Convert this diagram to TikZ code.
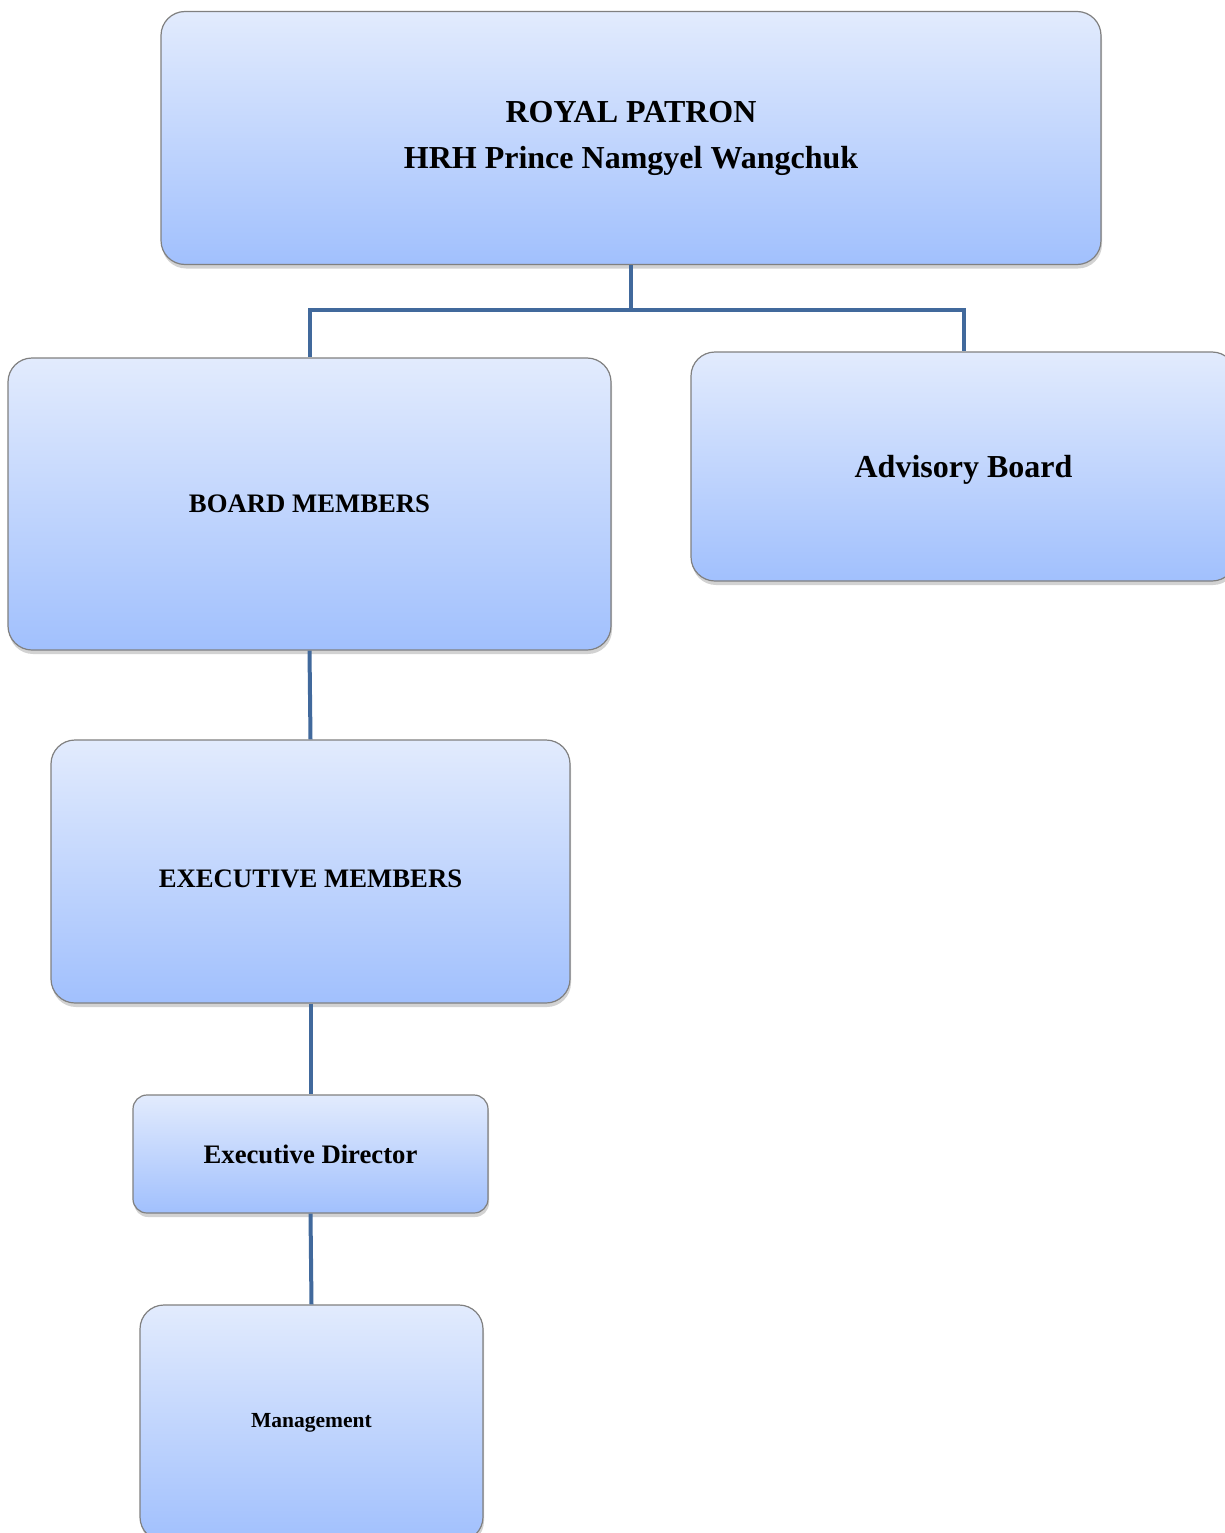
\documentclass[tikz,border=0pt]{standalone}
\usepackage{fontspec}
\setmainfont{Liberation Serif}
\usetikzlibrary{shadows}

\tikzset{
	orgbox/.style={draw=black!50, line width=1.2pt, rounded corners=24pt,
		top color={rgb,255:red,226;green,235;blue,253},
		bottom color={rgb,255:red,161;green,192;blue,253},
		drop shadow={shadow xshift=1pt, shadow yshift=-4pt, opacity=0.35},
		font=\bfseries, align=center, inner sep=0pt},
	orgline/.style={draw={rgb,255:red,65;green,105;blue,156}, line width=4pt}
}

\begin{document}
\begin{tikzpicture}[x=1pt, y=-1pt]
\useasboundingbox (0,0) rectangle (1224,1533);
\fill[white] (0,0) rectangle (1224,1533);

\node[orgbox, minimum width=940pt, minimum height=253pt, font=\bfseries\fontsize{32}{46}\selectfont] (patron) at (631,138) {ROYAL PATRON\\HRH Prince Namgyel Wangchuk};
\node[orgbox, minimum width=603pt, minimum height=292pt, font=\bfseries\fontsize{26.7}{30}\selectfont] (board) at (309.5,504) {BOARD MEMBERS};
\node[orgbox, minimum width=545pt, minimum height=229pt, font=\bfseries\fontsize{32}{36}\selectfont] (advisory) at (963.5,466.5) {\raisebox{-3pt}[\height][\depth]{Advisory Board}};
\node[orgbox, minimum width=519pt, minimum height=263pt, font=\bfseries\fontsize{26.7}{30}\selectfont] (execmem) at (310.5,871.5) {\raisebox{-7pt}[\height][\depth]{EXECUTIVE MEMBERS}};
\node[orgbox, minimum width=355pt, minimum height=118pt, rounded corners=14pt, font=\bfseries\fontsize{26.7}{30}\selectfont] (director) at (310.5,1154) {Executive Director};
\node[orgbox, minimum width=343pt, minimum height=236pt, font=\bfseries\fontsize{21.5}{25}\selectfont] (manage) at (311.5,1423) {Management};

% connectors
\draw[orgline] (patron.south) -- ++(0,45) coordinate (split) -| (board.north);
\draw[orgline] (split) -| (advisory.north);
\draw[orgline] (board.south) -- (execmem.north);
\draw[orgline] (execmem.south) -- (director.north);
\draw[orgline] (director.south) -- (manage.north);
\end{tikzpicture}
\end{document}
